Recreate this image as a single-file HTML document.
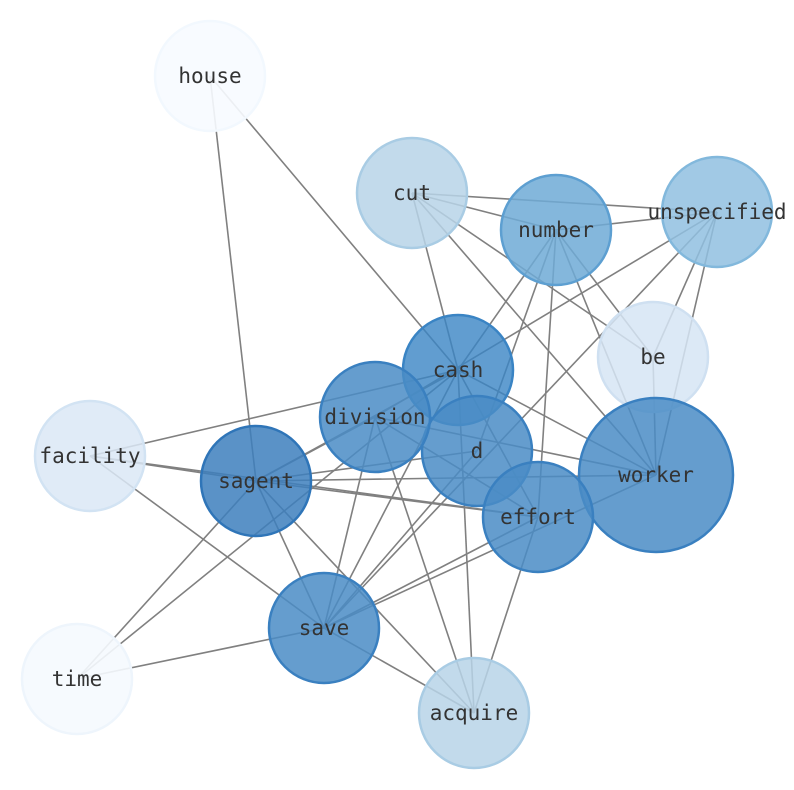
<!DOCTYPE html>
<html><head><meta charset="utf-8"><style>body{margin:0;background:#fff}svg{display:block}</style></head>
<body>
<svg width="794" height="790" viewBox="0 0 794 790" xmlns="http://www.w3.org/2000/svg">
<g stroke="#808080" stroke-width="1.6">
<line x1="210" y1="76" x2="256" y2="481"/>
<line x1="210" y1="76" x2="458" y2="370"/>
<line x1="412" y1="193" x2="717" y2="212"/>
<line x1="412" y1="193" x2="556" y2="230"/>
<line x1="412" y1="193" x2="653" y2="357"/>
<line x1="412" y1="193" x2="458" y2="370"/>
<line x1="412" y1="193" x2="656" y2="475"/>
<line x1="556" y1="230" x2="717" y2="212"/>
<line x1="556" y1="230" x2="653" y2="357"/>
<line x1="556" y1="230" x2="656" y2="475"/>
<line x1="556" y1="230" x2="538" y2="517"/>
<line x1="556" y1="230" x2="477" y2="451"/>
<line x1="556" y1="230" x2="458" y2="370"/>
<line x1="717" y1="212" x2="653" y2="357"/>
<line x1="717" y1="212" x2="656" y2="475"/>
<line x1="717" y1="212" x2="375" y2="417"/>
<line x1="717" y1="212" x2="324" y2="628"/>
<line x1="653" y1="357" x2="656" y2="475"/>
<line x1="458" y1="370" x2="90" y2="456"/>
<line x1="458" y1="370" x2="256" y2="481"/>
<line x1="458" y1="370" x2="656" y2="475"/>
<line x1="458" y1="370" x2="538" y2="517"/>
<line x1="458" y1="370" x2="324" y2="628"/>
<line x1="458" y1="370" x2="77" y2="679"/>
<line x1="458" y1="370" x2="474" y2="713"/>
<line x1="375" y1="417" x2="256" y2="481"/>
<line x1="375" y1="417" x2="656" y2="475"/>
<line x1="375" y1="417" x2="538" y2="517"/>
<line x1="375" y1="417" x2="324" y2="628"/>
<line x1="375" y1="417" x2="474" y2="713"/>
<line x1="477" y1="451" x2="324" y2="628"/>
<line x1="477" y1="451" x2="256" y2="481"/>
<line x1="90" y1="456" x2="256" y2="481"/>
<line x1="90" y1="456" x2="538" y2="517"/>
<line x1="90" y1="456" x2="324" y2="628"/>
<line x1="256" y1="481" x2="656" y2="475"/>
<line x1="256" y1="481" x2="538" y2="517"/>
<line x1="256" y1="481" x2="324" y2="628"/>
<line x1="256" y1="481" x2="474" y2="713"/>
<line x1="256" y1="481" x2="77" y2="679"/>
<line x1="656" y1="475" x2="324" y2="628"/>
<line x1="538" y1="517" x2="324" y2="628"/>
<line x1="538" y1="517" x2="474" y2="713"/>
<line x1="324" y1="628" x2="77" y2="679"/>
<line x1="324" y1="628" x2="474" y2="713"/>
</g>
<g stroke-width="2.5">
<circle cx="210" cy="76" r="55" fill="#f7fbff" fill-opacity="0.9" stroke="#f2f8fe"/>
<circle cx="412" cy="193" r="55" fill="#b7d4e8" fill-opacity="0.85" stroke="#a9cce4"/>
<circle cx="556" cy="230" r="55" fill="#6eaad6" fill-opacity="0.85" stroke="#5d9fd1"/>
<circle cx="717" cy="212" r="55" fill="#90c0e0" fill-opacity="0.85" stroke="#82b8dc"/>
<circle cx="653" cy="357" r="55" fill="#d6e5f4" fill-opacity="0.85" stroke="#cfe0f1"/>
<circle cx="90" cy="456" r="55" fill="#dae8f6" fill-opacity="0.85" stroke="#d2e3f3"/>
<circle cx="77" cy="679" r="55" fill="#f5f9fe" fill-opacity="0.9" stroke="#eef5fc"/>
<circle cx="474" cy="713" r="55" fill="#b7d4e8" fill-opacity="0.85" stroke="#a9cce4"/>
<circle cx="458" cy="370" r="55" fill="#3a84c4" fill-opacity="0.8" stroke="#3a84c4"/>
<circle cx="477" cy="451" r="55" fill="#4a8cc6" fill-opacity="0.85" stroke="#3a80c0"/>
<circle cx="375" cy="417" r="55" fill="#4a8cc6" fill-opacity="0.85" stroke="#3a80c0"/>
<circle cx="256" cy="481" r="55" fill="#3d7fbd" fill-opacity="0.85" stroke="#2f75b8"/>
<circle cx="656" cy="475" r="77" fill="#4a8cc6" fill-opacity="0.85" stroke="#3a80c0"/>
<circle cx="538" cy="517" r="55" fill="#4a8cc6" fill-opacity="0.85" stroke="#3a80c0"/>
<circle cx="324" cy="628" r="55" fill="#4a8cc6" fill-opacity="0.85" stroke="#3a80c0"/>
</g>
<g font-family="'DejaVu Sans Mono','Liberation Mono',monospace" font-size="21" fill="#333" text-anchor="middle" dominant-baseline="central">
<text x="210" y="76">house</text>
<text x="412" y="193">cut</text>
<text x="556" y="230">number</text>
<text x="717" y="212">unspecified</text>
<text x="653" y="357">be</text>
<text x="458" y="370">cash</text>
<text x="375" y="417">division</text>
<text x="477" y="451">d</text>
<text x="90" y="456">facility</text>
<text x="256" y="481">sagent</text>
<text x="656" y="475">worker</text>
<text x="538" y="517">effort</text>
<text x="324" y="628">save</text>
<text x="77" y="679">time</text>
<text x="474" y="713">acquire</text>
</g>
</svg>
</body></html>
